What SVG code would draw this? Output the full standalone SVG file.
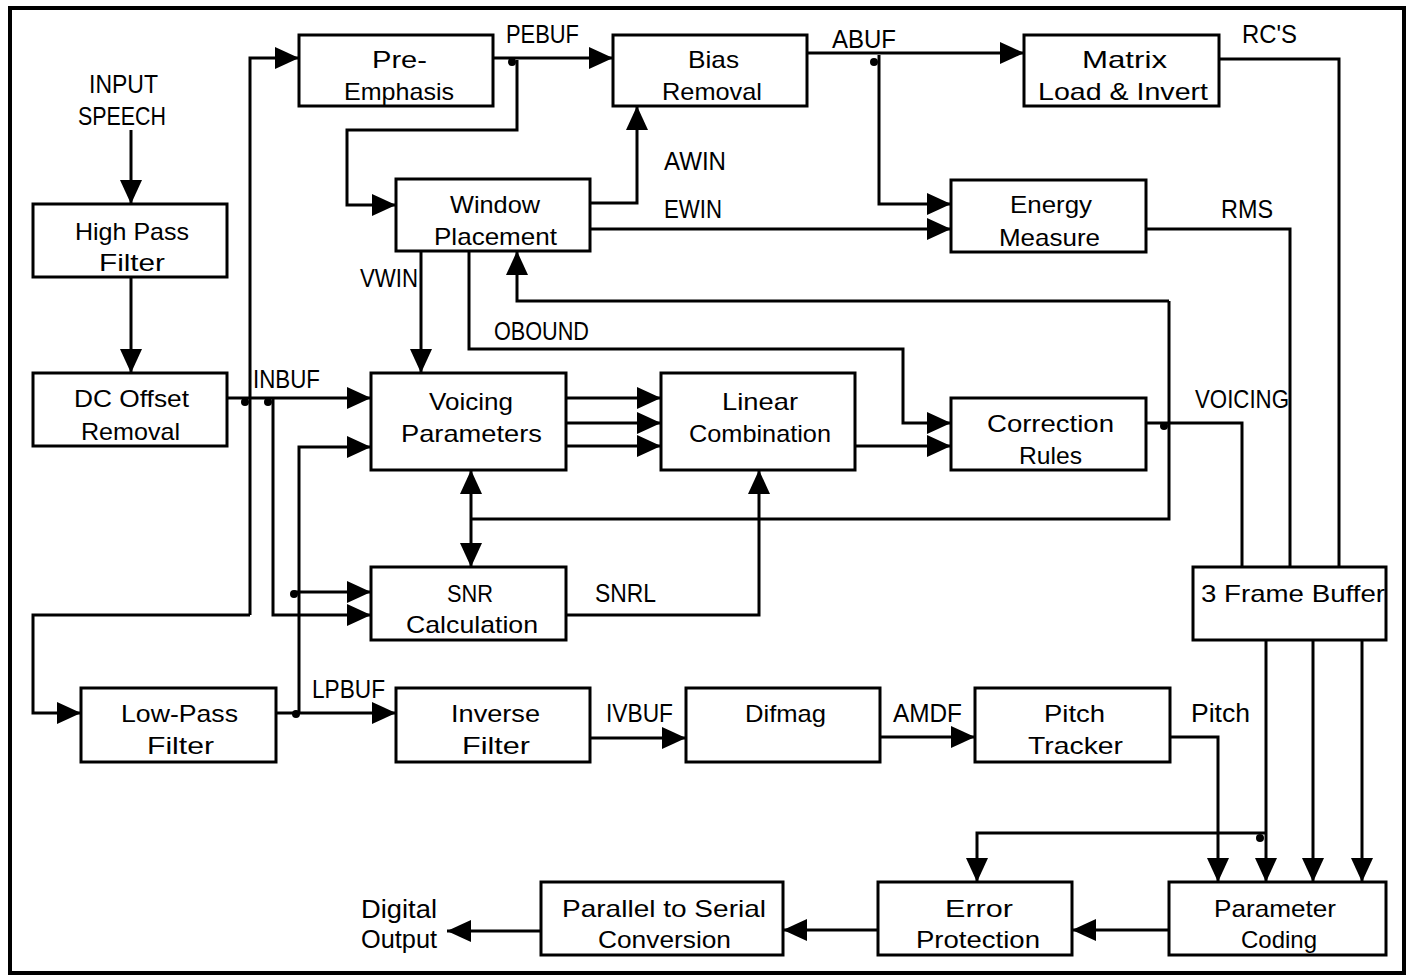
<svg xmlns="http://www.w3.org/2000/svg" width="1408" height="979" viewBox="0 0 1408 979">
<style>
.box{fill:#fff;stroke:#000;stroke-width:3}
.t{font-family:"Liberation Sans",Arial,sans-serif;font-size:24px;fill:#000;text-anchor:middle}
.l{font-family:"Liberation Sans",Arial,sans-serif;font-size:25px;fill:#000}
.c{fill:none;stroke:#000;stroke-width:3;stroke-linejoin:miter}
.a{marker-end:url(#ah)}
.d{fill:#000}
</style>
<defs>
<marker id="ah" markerUnits="userSpaceOnUse" markerWidth="24" markerHeight="24" viewBox="0 0 24 24" refX="24" refY="12" orient="auto-start-reverse">
<path d="M0,1 L24,12 L0,23 z" fill="#000"/>
</marker>
</defs>
<rect x="0" y="0" width="1408" height="979" fill="#fff"/>
<rect x="10" y="8" width="1394" height="965" fill="none" stroke="#000" stroke-width="4"/>

<g id="connectors">
<!-- input speech -->
<path class="c a" d="M131,130 V204"/>
<path class="c a" d="M131,277 V373"/>
<!-- INBUF -->
<path class="c a" d="M227,398 H371"/>
<path class="c a" d="M250,615 V58 H299"/>
<path class="c a" d="M250,615 H33 V713 H81"/>
<path class="c a" d="M273,398 V615 H371"/>
<!-- LPBUF -->
<path class="c a" d="M276,713 H396"/>
<path class="c a" d="M299,713 V447 H371"/>
<path class="c a" d="M294,592 H371"/>
<!-- PEBUF -->
<path class="c a" d="M493,58 H613"/>
<path class="c a" d="M517,60 V130 H347 V205 H396"/>
<!-- AWIN / EWIN -->
<path class="c a" d="M590,203 H637 V106"/>
<path class="c a" d="M590,229 H951"/>
<!-- ABUF -->
<path class="c a" d="M807,53 H1024"/>
<path class="c a" d="M879,55 V204 H951"/>
<!-- RC'S, RMS -->
<path class="c" d="M1219,59 H1339 V567"/>
<path class="c" d="M1146,229 H1290 V567"/>
<!-- VWIN -->
<path class="c a" d="M421,251 V373"/>
<!-- OBOUND -->
<path class="c a" d="M469,251 V349 H903 V423 H951"/>
<!-- Voicing -> Linear -->
<path class="c a" d="M566,398 H661"/>
<path class="c a" d="M566,423 H661"/>
<path class="c a" d="M566,446 H661"/>
<path class="c a" d="M855,446 H951"/>
<!-- Voicing <-> SNR -->
<path class="c" d="M471,470 V567" marker-start="url(#ah)" marker-end="url(#ah)"/>
<!-- SNRL -->
<path class="c a" d="M566,615 H759 V470"/>
<!-- VOICING -->
<path class="c" d="M1146,423 H1242 V567"/>
<path class="c" d="M471,519 H1169 V301"/>
<path class="c a" d="M1169,301 H517 V251"/>
<!-- pitch chain -->
<path class="c a" d="M590,738 H686"/>
<path class="c a" d="M880,737 H975"/>
<path class="c a" d="M1170,737 H1218 V882"/>
<path class="c a" d="M1266,640 V882"/>
<path class="c a" d="M1313,640 V882"/>
<path class="c a" d="M1362,640 V882"/>
<path class="c a" d="M1266,833 H977 V882"/>
<!-- output chain -->
<path class="c a" d="M1169,930 H1072"/>
<path class="c a" d="M878,930 H783"/>
<path class="c a" d="M541,931 H447"/>
<!-- junction dots -->
<circle class="d" cx="245" cy="402" r="4"/>
<circle class="d" cx="268" cy="402" r="4"/>
<circle class="d" cx="294" cy="594" r="4"/>
<circle class="d" cx="296" cy="714" r="4"/>
<circle class="d" cx="512" cy="62" r="4"/>
<circle class="d" cx="874" cy="62" r="4"/>
<circle class="d" cx="1164" cy="426" r="4"/>
<circle class="d" cx="1260" cy="838" r="4"/>
</g>

<g id="labels">
<text class="l" x="89" y="93" textLength="69" lengthAdjust="spacingAndGlyphs">INPUT</text>
<text class="l" x="78" y="125" textLength="88" lengthAdjust="spacingAndGlyphs">SPEECH</text>
<text class="l" x="506" y="43" textLength="73" lengthAdjust="spacingAndGlyphs">PEBUF</text>
<text class="l" x="832" y="48" textLength="64" lengthAdjust="spacingAndGlyphs">ABUF</text>
<text class="l" x="1242" y="43" textLength="55" lengthAdjust="spacingAndGlyphs">RC'S</text>
<text class="l" x="664" y="170" textLength="62" lengthAdjust="spacingAndGlyphs">AWIN</text>
<text class="l" x="664" y="218" textLength="58" lengthAdjust="spacingAndGlyphs">EWIN</text>
<text class="l" x="1221" y="218" textLength="52" lengthAdjust="spacingAndGlyphs">RMS</text>
<text class="l" x="360" y="287" textLength="58" lengthAdjust="spacingAndGlyphs">VWIN</text>
<text class="l" x="494" y="340" textLength="95" lengthAdjust="spacingAndGlyphs">OBOUND</text>
<text class="l" x="253" y="388" textLength="67" lengthAdjust="spacingAndGlyphs">INBUF</text>
<text class="l" x="1195" y="408" textLength="94" lengthAdjust="spacingAndGlyphs">VOICING</text>
<text class="l" x="595" y="602" textLength="61" lengthAdjust="spacingAndGlyphs">SNRL</text>
<text class="l" x="312" y="698" textLength="73" lengthAdjust="spacingAndGlyphs">LPBUF</text>
<text class="l" x="606" y="722" textLength="67" lengthAdjust="spacingAndGlyphs">IVBUF</text>
<text class="l" x="893" y="722" textLength="69" lengthAdjust="spacingAndGlyphs">AMDF</text>
<text class="l" x="1191" y="722" textLength="59" lengthAdjust="spacingAndGlyphs">Pitch</text>
<text class="l" x="361" y="918" textLength="76" lengthAdjust="spacingAndGlyphs">Digital</text>
<text class="l" x="361" y="948" textLength="76" lengthAdjust="spacingAndGlyphs">Output</text>
</g>

<g id="pre-emphasis">
<rect class="box" x="299" y="35" width="194" height="71"/>
<text class="t" x="399.5" y="68" textLength="55" lengthAdjust="spacingAndGlyphs">Pre-</text>
<text class="t" x="399" y="100" textLength="110" lengthAdjust="spacingAndGlyphs">Emphasis</text>
</g>
<g id="bias-removal">
<rect class="box" x="613" y="35" width="194" height="71"/>
<text class="t" x="713.5" y="68" textLength="51" lengthAdjust="spacingAndGlyphs">Bias</text>
<text class="t" x="712" y="100" textLength="100" lengthAdjust="spacingAndGlyphs">Removal</text>
</g>
<g id="matrix">
<rect class="box" x="1024" y="35" width="195" height="71"/>
<text class="t" x="1124.5" y="68" textLength="85" lengthAdjust="spacingAndGlyphs">Matrix</text>
<text class="t" x="1123" y="100" textLength="170" lengthAdjust="spacingAndGlyphs">Load &amp; Invert</text>
</g>
<g id="high-pass">
<rect class="box" x="33" y="204" width="194" height="73"/>
<text class="t" x="132" y="240" textLength="114" lengthAdjust="spacingAndGlyphs">High Pass</text>
<text class="t" x="132" y="271" textLength="66" lengthAdjust="spacingAndGlyphs">Filter</text>
</g>
<g id="window-placement">
<rect class="box" x="396" y="179" width="194" height="72"/>
<text class="t" x="495" y="213" textLength="90" lengthAdjust="spacingAndGlyphs">Window</text>
<text class="t" x="495.5" y="245" textLength="123" lengthAdjust="spacingAndGlyphs">Placement</text>
</g>
<g id="energy-measure">
<rect class="box" x="951" y="180" width="195" height="72"/>
<text class="t" x="1051" y="213" textLength="82" lengthAdjust="spacingAndGlyphs">Energy</text>
<text class="t" x="1049.5" y="246" textLength="101" lengthAdjust="spacingAndGlyphs">Measure</text>
</g>
<g id="dc-offset">
<rect class="box" x="33" y="373" width="194" height="73"/>
<text class="t" x="131.5" y="407" textLength="115" lengthAdjust="spacingAndGlyphs">DC Offset</text>
<text class="t" x="130.5" y="440" textLength="99" lengthAdjust="spacingAndGlyphs">Removal</text>
</g>
<g id="voicing-parameters">
<rect class="box" x="371" y="373" width="195" height="97"/>
<text class="t" x="471" y="410" textLength="84" lengthAdjust="spacingAndGlyphs">Voicing</text>
<text class="t" x="471.5" y="442" textLength="141" lengthAdjust="spacingAndGlyphs">Parameters</text>
</g>
<g id="linear-combination">
<rect class="box" x="661" y="373" width="194" height="97"/>
<text class="t" x="760" y="410" textLength="76" lengthAdjust="spacingAndGlyphs">Linear</text>
<text class="t" x="760" y="442" textLength="142" lengthAdjust="spacingAndGlyphs">Combination</text>
</g>
<g id="correction-rules">
<rect class="box" x="951" y="398" width="195" height="72"/>
<text class="t" x="1050.5" y="432" textLength="127" lengthAdjust="spacingAndGlyphs">Correction</text>
<text class="t" x="1050.5" y="464" textLength="63" lengthAdjust="spacingAndGlyphs">Rules</text>
</g>
<g id="snr-calculation">
<rect class="box" x="371" y="567" width="195" height="73"/>
<text class="t" x="470" y="602" textLength="46" lengthAdjust="spacingAndGlyphs">SNR</text>
<text class="t" x="472" y="633" textLength="132" lengthAdjust="spacingAndGlyphs">Calculation</text>
</g>
<g id="frame-buffer">
<rect class="box" x="1193" y="567" width="193" height="73"/>
<text class="t" x="1293" y="602" textLength="184" lengthAdjust="spacingAndGlyphs">3 Frame Buffer</text>
</g>
<g id="low-pass">
<rect class="box" x="81" y="688" width="195" height="74"/>
<text class="t" x="179.5" y="722" textLength="117" lengthAdjust="spacingAndGlyphs">Low-Pass</text>
<text class="t" x="180.5" y="754" textLength="67" lengthAdjust="spacingAndGlyphs">Filter</text>
</g>
<g id="inverse-filter">
<rect class="box" x="396" y="688" width="194" height="74"/>
<text class="t" x="495.5" y="722" textLength="89" lengthAdjust="spacingAndGlyphs">Inverse</text>
<text class="t" x="496" y="754" textLength="68" lengthAdjust="spacingAndGlyphs">Filter</text>
</g>
<g id="difmag">
<rect class="box" x="686" y="688" width="194" height="74"/>
<text class="t" x="785.5" y="722" textLength="81" lengthAdjust="spacingAndGlyphs">Difmag</text>
</g>
<g id="pitch-tracker">
<rect class="box" x="975" y="688" width="195" height="74"/>
<text class="t" x="1074.5" y="722" textLength="61" lengthAdjust="spacingAndGlyphs">Pitch</text>
<text class="t" x="1075.5" y="754" textLength="95" lengthAdjust="spacingAndGlyphs">Tracker</text>
</g>
<g id="parallel-serial">
<rect class="box" x="541" y="882" width="242" height="73"/>
<text class="t" x="664" y="917" textLength="204" lengthAdjust="spacingAndGlyphs">Parallel to Serial</text>
<text class="t" x="664.5" y="948" textLength="133" lengthAdjust="spacingAndGlyphs">Conversion</text>
</g>
<g id="error-protection">
<rect class="box" x="878" y="882" width="194" height="73"/>
<text class="t" x="979" y="917" textLength="68" lengthAdjust="spacingAndGlyphs">Error</text>
<text class="t" x="978" y="948" textLength="124" lengthAdjust="spacingAndGlyphs">Protection</text>
</g>
<g id="parameter-coding">
<rect class="box" x="1169" y="882" width="217" height="73"/>
<text class="t" x="1275" y="917" textLength="122" lengthAdjust="spacingAndGlyphs">Parameter</text>
<text class="t" x="1279" y="948" textLength="76" lengthAdjust="spacingAndGlyphs">Coding</text>
</g>
</svg>
